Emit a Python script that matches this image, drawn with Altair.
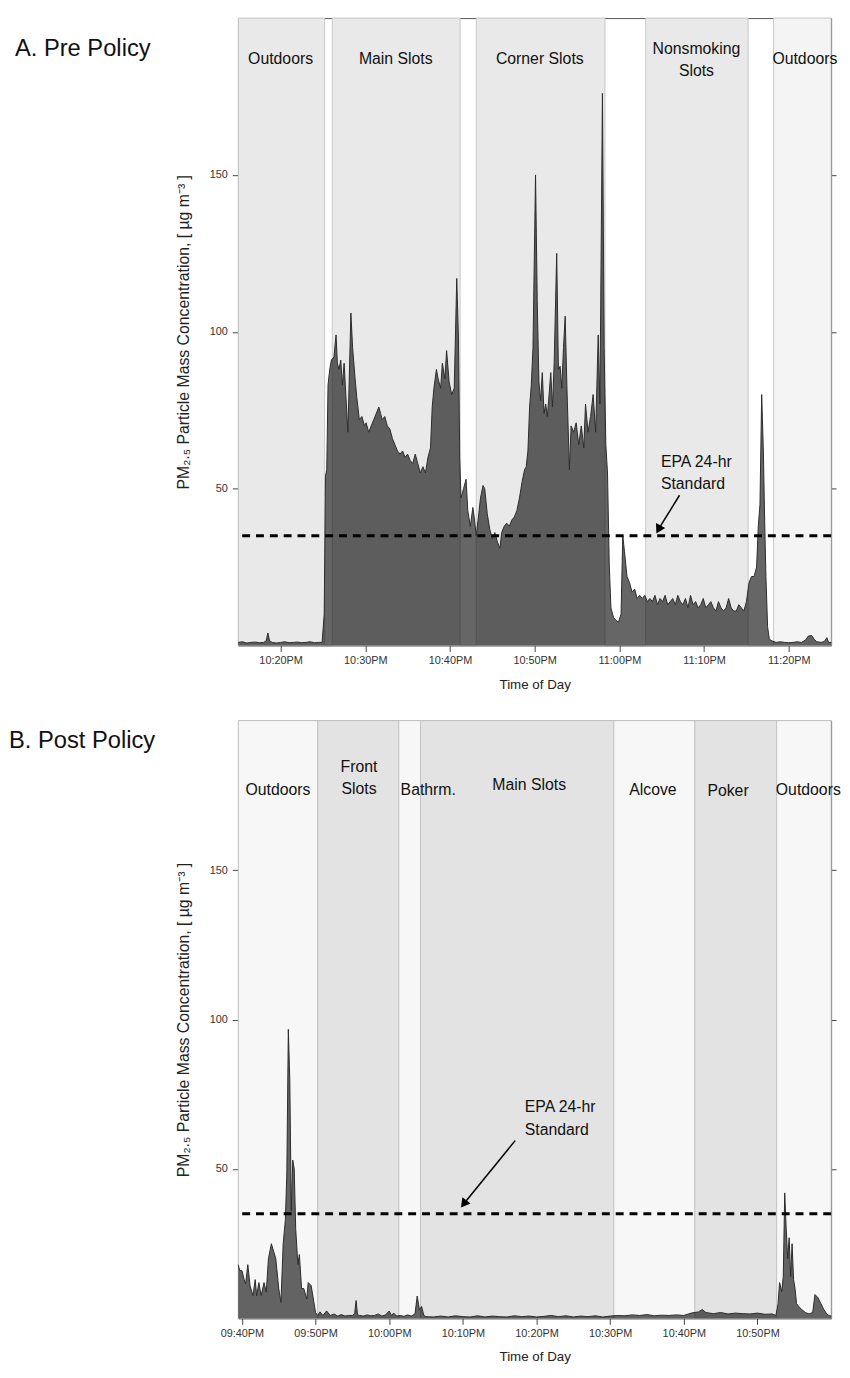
import altair as alt
import pandas as pd

# ---------------- Panel A: Pre Policy (time = minutes after 10:00 PM) ----------------
pre_t = [15.0, 15.5, 16.0, 16.5, 17.0, 17.5, 18.0, 18.3, 18.5, 18.7, 19.0, 19.5, 20.0, 20.5, 21.0,
         21.5, 22.0, 22.5, 23.0, 23.5, 24.0, 24.5, 24.9,
         25.15, 25.3, 25.45, 25.6, 25.8, 26.0, 26.3, 26.55, 26.7, 26.9, 27.1, 27.3, 27.5, 27.7, 27.95,
         28.3, 28.5, 28.8, 29.0, 29.3, 29.6, 29.9, 30.1, 30.4, 30.7, 31.0, 31.3, 31.6, 31.8, 32.0,
         32.3, 32.6, 32.9, 33.2, 33.5, 33.8, 34.1, 34.4, 34.7, 35.0, 35.3, 35.6, 35.9, 36.2, 36.5,
         36.8, 37.1, 37.4, 37.7, 37.9, 38.1, 38.4, 38.6, 38.9, 39.1, 39.4, 39.6, 39.9, 40.2, 40.5,
         40.8, 41.0, 41.15, 41.3, 41.6, 41.9, 42.1, 42.4, 42.7, 42.9, 43.1, 43.4, 43.6, 43.9, 44.1,
         44.4, 44.7, 45.0, 45.3, 45.6, 45.9, 46.1, 46.4, 46.7, 47.0, 47.3, 47.6, 47.9, 48.2, 48.5,
         48.8, 49.0, 49.2, 49.4, 49.6, 49.8, 50.1, 50.3, 50.5, 50.7, 50.9, 51.1, 51.3, 51.5, 51.7,
         51.9, 52.1, 52.3, 52.6, 52.8, 53.0, 53.2, 53.4, 53.6, 53.8, 54.1, 54.3, 54.6, 54.9, 55.2,
         55.5, 55.8, 56.0, 56.3, 56.6, 56.9, 57.2, 57.5, 57.7, 58.0, 58.2, 58.4, 58.6, 58.8, 59.0,
         59.3, 59.6, 59.9, 60.2, 60.4, 60.6, 60.9, 61.2, 61.5, 61.8, 62.1, 62.4, 62.7, 63.0, 63.3,
         63.6, 63.9, 64.2, 64.5, 64.8, 65.1, 65.4, 65.7, 66.0, 66.3, 66.6, 66.9, 67.2, 67.5, 67.8,
         68.1, 68.4, 68.7, 69.0, 69.3, 69.6, 69.9, 70.2, 70.5, 70.8, 71.1, 71.4, 71.7, 72.0, 72.3,
         72.6, 72.9, 73.2, 73.5, 73.8, 74.1, 74.4, 74.7, 75.0, 75.3, 75.6, 75.9, 76.2, 76.4, 76.6,
         76.8, 77.0, 77.15, 77.3, 77.5, 77.7, 78.0, 78.5, 79.0, 79.5, 80.0, 80.5, 81.0, 81.5, 82.0,
         82.3, 82.7, 83.0, 83.3, 83.8, 84.2, 84.5, 84.7, 85.0]
pre_v = [1.0, 1.2, 0.8, 1.0, 1.1, 0.9, 1.0, 1.5, 4.0, 1.5, 1.0, 0.8, 1.0, 1.2, 0.9,
         1.0, 1.1, 0.9, 1.0, 1.2, 0.9, 1.0, 1.0,
         10, 54, 56, 83, 88, 91, 92, 99, 90, 88, 91, 83, 90, 80, 68,
         106, 95, 85, 79, 72, 73, 70, 71, 68, 70, 72, 74, 76, 74, 72,
         73, 70, 69, 66, 64, 62, 61, 62, 60, 61, 59, 58, 61, 58, 55,
         57, 55, 60, 63, 76, 82, 88, 85, 82, 90, 85, 94, 84, 80, 82,
         117, 98, 60, 47, 50, 53, 43, 38, 44, 40, 35, 42, 47, 51, 50,
         42, 37, 34, 36, 33, 31, 36, 38, 39, 38, 40, 41, 43, 47, 52,
         56, 57, 62, 76, 83, 95, 150, 110, 84, 78, 87, 74, 77, 73, 80,
         87, 76, 90, 125, 88, 89, 82, 95, 105, 83, 56, 70, 68, 71, 64,
         70, 63, 77, 68, 73, 80, 68, 99, 77, 176, 95, 64, 55, 26, 12,
         9, 8, 7.5, 10, 35, 30, 22, 20, 17, 18, 15, 16, 15, 16, 14,
         15, 14, 16, 13, 15, 14, 16, 13, 14, 15, 13, 16, 14, 13, 15,
         12, 16, 13, 14, 12, 13, 15, 12, 13, 14, 12, 11, 14, 12, 11,
         12, 15, 12, 11, 11, 13, 12, 11, 14, 20, 22, 22, 25, 38, 45,
         80, 62, 40, 22, 6, 2, 1.5, 1.0, 1.2, 1.0, 0.9, 1.0, 1.2, 1.0, 1.8,
         3.0, 3.2, 2.0, 1.2, 1.0, 1.3, 2.5, 1.0, 1.0]

pre_region_name = ["Outdoors", "Main Slots", "Corner Slots", "Nonsmoking\nSlots", "Outdoors"]
pre_region_start = [15.0, 26.1, 43.1, 63.1, 78.2]
pre_region_end = [25.2, 41.2, 58.3, 75.2, 85.0]
pre_region_kind = ["indoor", "indoor", "indoor", "indoor", "outdoor_end"]
pre_label_t = [20.0, 33.6, 50.6, 69.1, 81.9]
pre_label_v = [187, 187, 187, 190, 187]

# ---------------- Panel B: Post Policy (time = minutes after 9:00 PM) ----------------
post_t = [39.5, 39.7, 40.0, 40.3, 40.5, 40.8, 41.1, 41.5, 41.8, 42.0, 42.3, 42.6, 43.0, 43.3,
          43.6, 44.0, 44.3, 44.6, 45.0, 45.3, 45.6, 45.9, 46.1, 46.3, 46.5, 46.7, 46.9, 47.1,
          47.3, 47.6, 47.8, 48.1, 48.4, 48.8, 49.0, 49.4, 49.7, 50.0, 50.3, 50.6, 51.0, 51.5,
          52.0, 52.5, 53.0, 53.5, 54.0, 54.5, 55.0, 55.3, 55.5, 55.7, 56.0, 56.5, 57.0, 57.5,
          58.0, 58.5, 59.0, 59.5, 60.0, 60.3, 60.6, 61.0, 61.5, 62.0, 62.5, 63.0, 63.5, 63.8,
          64.1, 64.4, 64.7, 65.0, 66.0, 67.0, 68.0, 69.0, 70.0, 71.0, 72.0, 73.0, 74.0, 75.0,
          76.0, 77.0, 78.0, 79.0, 80.0, 81.0, 82.0, 83.0, 84.0, 85.0, 86.0, 87.0, 88.0, 89.0,
          90.0, 91.0, 92.0, 93.0, 94.0, 95.0, 96.0, 97.0, 98.0, 99.0, 100.0, 101.0, 102.0, 102.5,
          103.0, 104.0, 105.0, 106.0, 107.0, 108.0, 109.0, 110.0, 111.0, 112.0, 112.5, 112.8,
          113.0, 113.3, 113.5, 113.7, 113.9, 114.1, 114.3, 114.5, 114.7, 114.9, 115.1, 115.3,
          115.6, 116.0, 116.5, 117.0, 117.5, 117.8, 118.2, 118.6, 119.0, 119.4, 119.7, 120.0]
post_v = [18, 16, 16, 13, 11.6, 18, 11, 7.6, 13, 7.6, 12, 7.6, 12, 8.8,
          20, 25, 22.5, 20, 10, 5.4, 25, 33, 49, 96.7, 80, 36, 53, 50,
          30, 18, 21.4, 10, 10, 6.5, 12, 11, 6.5, 2.0, 1.0, 2.2, 1.0, 2.5,
          1.0, 1.5, 0.8, 1.3, 0.8, 1.0, 1.0, 1.5, 6.0, 1.2, 1.0, 0.8, 1.2, 0.9,
          1.0, 1.5, 0.8, 1.2, 2.5, 1.0, 1.8, 0.8, 1.0, 0.7, 1.2, 0.8, 1.5, 7.5,
          3.0, 4.0, 1.0, 0.6, 0.5, 0.8, 0.5, 0.9, 0.6, 0.5, 0.9, 0.5, 0.8, 0.6,
          0.5, 0.9, 0.6, 0.8, 0.5, 0.7, 1.0, 0.6, 0.9, 0.5, 0.8, 0.6, 0.9, 0.5,
          0.8, 1.0, 0.9, 1.2, 1.0, 1.3, 0.9, 1.1, 1.0, 1.2, 1.0, 1.8, 2.2, 3.0,
          2.0, 1.6, 2.0, 1.5, 1.8, 1.6, 1.5, 1.8, 1.4, 1.5, 1.0, 5,
          12, 9, 14, 42, 30, 20, 27, 14, 25, 13, 10, 5,
          4, 3, 2, 1.5, 2, 8, 7, 5, 3, 1.5, 1.0, 0.8]

post_region_name = ["Outdoors", "Front\nSlots", "Bathrm.", "Main Slots", "Alcove", "Poker", "Outdoors"]
post_region_start = [39.5, 50.3, 61.3, 64.25, 90.5, 101.5, 112.6]
post_region_end = [50.3, 61.3, 64.25, 90.5, 101.5, 112.6, 120.0]
post_region_kind = ["light", "dark", "light", "dark", "light", "dark", "light"]
post_label_t = [44.9, 55.9, 65.3, 79.0, 95.8, 106.0, 116.9]
post_label_v = [176.9, 184.5, 176.9, 178.5, 176.9, 176.6, 176.9]

EPA_STANDARD = 35
epa_label = "EPA 24-hr\nStandard"
pre_epa_text = [64.9, 58.6]           # time, value of the annotation's first line (left edge)
pre_arrow = [67.1, 47.9, 64.7, 37.4]  # t_start, v_start, t_end, v_end
post_epa_text = [78.4, 70.7]
post_arrow = [77.1, 59.5, 70.24, 38.7]

FONT = "Liberation Sans"
YTITLE = "PM\u2082.\u2085 Particle Mass Concentration, [ \u00b5g m\u207b\u00b3 ]"

label_expr = ("(floor(datum.value/60)%12 < 10 ? '0' : '') + floor(datum.value/60)%12 + ':' + "
              "(datum.value%60 < 10 ? '0' : '') + datum.value%60 + 'PM'")

shade_domain = ["indoor", "outdoor_end", "light", "dark"]
shade_range = ["#e9e9e9", "#f4f4f4", "#f7f7f7", "#e3e3e3"]


def panel(t, v, offset, r_name, r_start, r_end, r_kind, l_t, l_v, xdom, xticks,
          epa_txt, arrow, arrow_angle, title_text, title_x, title_y, H, W=600):
    series = pd.DataFrame({"t": [x + offset for x in t], "v": v})
    regions = pd.DataFrame({"t": [x + offset for x in r_start],
                            "t2": [x + offset for x in r_end], "kind": r_kind})
    labels = pd.DataFrame({"t": [x + offset for x in l_t], "v": l_v, "name": r_name})
    epa = pd.DataFrame({"v": [EPA_STANDARD]})
    note = pd.DataFrame({"t": [epa_txt[0] + offset], "v": [epa_txt[1]], "txt": [epa_label]})
    arr = pd.DataFrame({"t": [arrow[0] + offset], "v": [arrow[1]],
                        "t2": [arrow[2] + offset], "v2": [arrow[3]]})
    head = pd.DataFrame({"t": [arrow[2] + offset], "v": [arrow[3]]})
    ttl = pd.DataFrame({"txt": [title_text]})

    xs = alt.Scale(domain=[xdom[0] + offset, xdom[1] + offset], nice=False, zero=False)
    ys = alt.Scale(domain=[0, 200], nice=False)
    xaxis = alt.Axis(values=[x + offset for x in xticks], labelExpr=label_expr,
                     title="Time of Day", domain=False, grid=False, tickSize=6,
                     labelPadding=3, titleY=39, titleBaseline="middle")
    x = alt.X("t:Q", scale=xs, axis=xaxis)

    rect = alt.Chart(regions).mark_rect(stroke="#bdbdbd", strokeWidth=0.8).encode(
        x=x, x2="t2:Q", y=alt.value(0), y2=alt.value(H),
        color=alt.Color("kind:N", scale=alt.Scale(domain=shade_domain, range=shade_range), legend=None))

    area = alt.Chart(series).mark_area(color="#000000", opacity=0.6, interpolate="linear").encode(
        x=x,
        y=alt.Y("v:Q", scale=ys,
                axis=alt.Axis(orient="left", values=[50, 100, 150], title=YTITLE, domain=False,
                              grid=False, tickSize=6, labelPadding=5, titleX=-55,
                              titleY=H / 2, titleAngle=270, titleAlign="center",
                              titleBaseline="middle", titleFontSize=16)))
    line = alt.Chart(series).mark_line(color="#2b2b2b", strokeWidth=1).encode(
        x=x, y=alt.Y("v:Q", scale=ys, axis=None))

    rule = alt.Chart(epa).mark_rule(color="#000000", strokeWidth=3, strokeDash=[8, 6]).encode(
        y=alt.Y("v:Q", scale=ys,
                axis=alt.Axis(orient="right", values=[50, 100, 150], labels=False, title=None,
                              domain=False, grid=False, tickSize=5)))

    lab = alt.Chart(labels).mark_text(fontSize=16, font=FONT, color="#111111", lineBreak="\n",
                                      lineHeight=22, baseline="middle", align="center").encode(
        x=x, y=alt.Y("v:Q", scale=ys, axis=None), text="name:N")

    note_mark = alt.Chart(note).mark_text(fontSize=16, font=FONT, color="#111111", lineBreak="\n",
                                          lineHeight=23, baseline="middle", align="left").encode(
        x=x, y=alt.Y("v:Q", scale=ys, axis=None), text="txt:N")

    arr_mark = alt.Chart(arr).mark_rule(color="#000000", strokeWidth=1.5).encode(
        x=x, x2="t2:Q", y=alt.Y("v:Q", scale=ys, axis=None), y2="v2:Q")
    head_mark = alt.Chart(head).mark_point(shape="triangle", filled=True, size=110, opacity=1,
                                           color="#000000", angle=arrow_angle).encode(
        x=x, y=alt.Y("v:Q", scale=ys, axis=None))

    title_mark = alt.Chart(ttl).mark_text(fontSize=24, font=FONT, color="#111111", align="left",
                                          baseline="middle").encode(
        x=alt.value(title_x), y=alt.value(title_y), text="txt:N")

    return alt.layer(rect, area, line, rule, lab, note_mark, arr_mark, head_mark, title_mark).resolve_axis(
        y="independent").properties(width=W, height=H)


top = panel(pre_t, pre_v, 1320, pre_region_name, pre_region_start, pre_region_end, pre_region_kind,
            pre_label_t, pre_label_v, [15, 85], [20, 30, 40, 50, 60, 70, 80],
            pre_epa_text, pre_arrow, 208, "A. Pre Policy", -226, 31, 635)
bottom = panel(post_t, post_v, 1260, post_region_name, post_region_start, post_region_end,
               post_region_kind, post_label_t, post_label_v, [39.5, 120],
               [40, 50, 60, 70, 80, 90, 100, 110],
               post_epa_text, post_arrow, 218, "B. Post Policy", -232, 21, 605)

chart = alt.vconcat(top, bottom, spacing=29).properties(
    padding={"left": 0, "top": 1, "right": 0, "bottom": 0}
).configure_view(stroke="#555555", strokeWidth=1).configure_axis(
    labelFont=FONT, titleFont=FONT, labelFontSize=11, titleFontSize=13.5,
    labelColor="#333333", titleColor="#222222", tickColor="#444444", titleFontWeight="normal"
).configure_text(font=FONT)

chart.save("out.html", embed_options={"renderer": "svg", "actions": False})
